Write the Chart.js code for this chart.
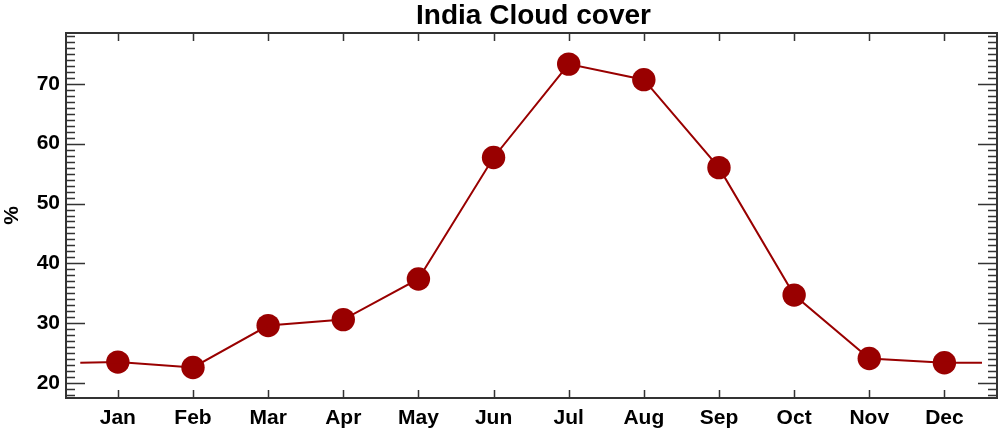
<!DOCTYPE html>
<html>
<head>
<meta charset="utf-8">
<script src="https://cdn.jsdelivr.net/npm/chart.js@4.4.0/dist/chart.umd.min.js"></script>
<style>
  html, body { margin: 0; padding: 0; background: #fff; }
  #wrap { width: 1000px; height: 433px; }
</style>
</head>
<body>
<div id="wrap"><canvas id="cloudChart" width="1000" height="433"></canvas></div>
<script>
// Monthly cloud cover (%)
const months = ["Jan", "Feb", "Mar", "Apr", "May", "Jun", "Jul", "Aug", "Sep", "Oct", "Nov", "Dec"];
const cloudCover = [23.5, 22.6, 29.6, 30.6, 37.4, 57.7, 73.3, 70.7, 56.0, 34.7, 24.1, 23.4];
// line continues half a month past each end (wraps round the year)
const edgeX = [-0.5, 11.5];
const edgeValues = [23.4, 23.4];
const yTicks = [20, 30, 40, 50, 60, 70];
const yMinorStep = 1;
const chartTitle = 'India Cloud cover';

const lineColor = '#990000';
const axisColor = '#333333';
const fontFamily = 'Liberation Sans, Arial, Helvetica, sans-serif';

const points = months.map((m, i) => ({ x: i, y: cloudCover[i] }));
const linePoints = [{ x: edgeX[0], y: edgeValues[0] }, ...points, { x: edgeX[1], y: edgeValues[1] }];

// Box round the plot, inward-pointing ticks on all four sides, and the title
// centred over the plot area (not the whole canvas)
const frameTicks = {
    id: 'frameTicks',
    afterDraw(chart) {
        const ctx = chart.ctx;
        const area = chart.chartArea;
        const xs = chart.scales.x;
        const ys = chart.scales.y;
        ctx.save();
        ctx.strokeStyle = axisColor;
        ctx.lineWidth = 1.5;
        ctx.beginPath();
        // month ticks, bottom and top
        months.forEach((m, i) => {
            const px = Math.round(xs.getPixelForValue(i)) + 0.5;
            ctx.moveTo(px, area.bottom);
            ctx.lineTo(px, area.bottom - 8);
            ctx.moveTo(px, area.top);
            ctx.lineTo(px, area.top + 8);
        });
        // y ticks, left and right
        for (let v = Math.ceil(ys.min); v <= ys.max; v += yMinorStep) {
            const py = Math.round(ys.getPixelForValue(v)) + 0.5;
            const len = yTicks.includes(v) ? 19 : 9;
            ctx.moveTo(area.left, py);
            ctx.lineTo(area.left + len, py);
            ctx.moveTo(area.right, py);
            ctx.lineTo(area.right - len, py);
        }
        ctx.stroke();
        ctx.lineWidth = 2;
        ctx.strokeRect(area.left, area.top, area.right - area.left, area.bottom - area.top);

        ctx.fillStyle = '#000';
        ctx.font = 'bold 28px ' + fontFamily;
        ctx.textAlign = 'center';
        ctx.textBaseline = 'alphabetic';
        ctx.fillText(chartTitle, (area.left + area.right) / 2 + 2, 24);
        ctx.restore();
    }
};

const ctx = document.getElementById('cloudChart').getContext('2d');
new Chart(ctx, {
    type: 'line',
    data: {
        datasets: [
            {
                label: 'Cloud cover',
                data: linePoints,
                borderColor: lineColor,
                borderWidth: 2,
                pointRadius: 0,
                fill: false,
                tension: 0
            },
            {
                label: 'Months',
                data: points,
                showLine: false,
                pointRadius: 11.7,
                pointBackgroundColor: lineColor,
                pointBorderColor: lineColor,
                pointBorderWidth: 0
            }
        ]
    },
    options: {
        responsive: false,
        animation: false,
        layout: {
            autoPadding: false,
            padding: { left: 0, right: 3, top: 33, bottom: 0 }
        },
        plugins: {
            legend: { display: false },
            tooltip: { enabled: false },
            title: { display: false }
        },
        scales: {
            x: {
                type: 'linear',
                min: -0.69,
                max: 11.7,
                grid: { display: false, drawTicks: false },
                border: { display: false },
                afterBuildTicks: scale => { scale.ticks = months.map((m, i) => ({ value: i })); },
                afterFit: scale => {
                    scale.height = 35;
                    scale.paddingLeft = 0;
                    scale.paddingRight = 0;
                },
                ticks: {
                    color: '#000',
                    padding: 8,
                    autoSkip: false,
                    maxRotation: 0,
                    font: { family: fontFamily, size: 21, weight: 'bold' },
                    callback: v => months[v]
                }
            },
            y: {
                min: 17.5,
                max: 78.5,
                grid: { display: false, drawTicks: false },
                border: { display: false },
                afterBuildTicks: scale => { scale.ticks = yTicks.map(v => ({ value: v })); },
                afterFit: scale => {
                    scale.width = 66;
                    scale.paddingTop = 0;
                    scale.paddingBottom = 0;
                },
                title: {
                    display: true,
                    text: '%',
                    color: '#000',
                    padding: 0,
                    font: { family: fontFamily, size: 21, weight: 'bold' }
                },
                ticks: {
                    color: '#000',
                    padding: 6,
                    font: { family: fontFamily, size: 21, weight: 'bold' }
                }
            }
        }
    },
    plugins: [frameTicks]
});
</script>
</body>
</html>
